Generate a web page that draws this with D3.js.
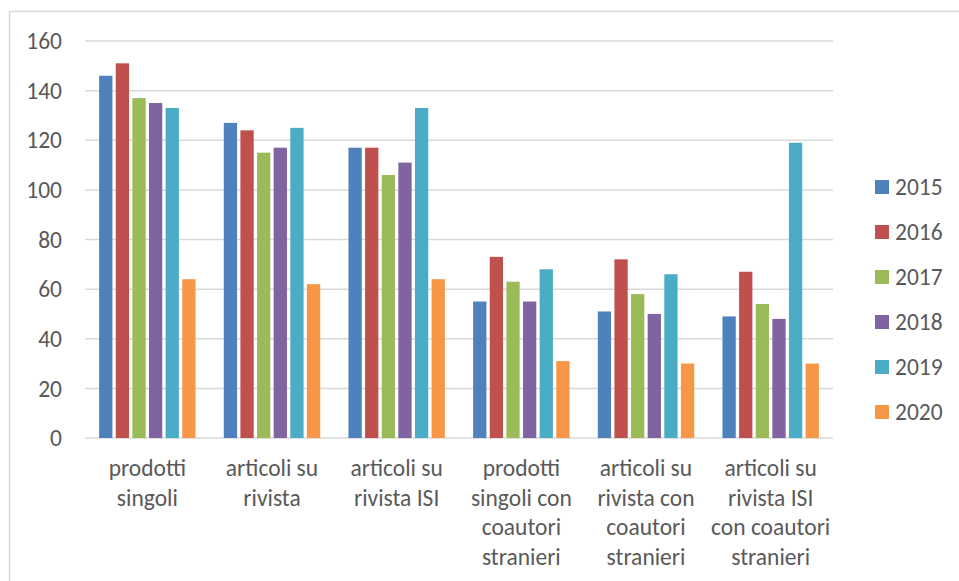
<!DOCTYPE html>
<html>
<head>
<meta charset="utf-8">
<script src="https://cdn.jsdelivr.net/npm/d3@7"></script>
<style>
  body { margin: 0; background: #fff; }
  svg text { font-family: Calibri, Carlito, "Liberation Sans", sans-serif; fill: #595959; }
</style>
</head>
<body>
<div id="chart"></div>
<script>
// chart data
var categories = [
  ["prodotti", "singoli"],
  ["articoli su", "rivista"],
  ["articoli su", "rivista ISI"],
  ["prodotti", "singoli con", "coautori", "stranieri"],
  ["articoli su", "rivista con", "coautori", "stranieri"],
  ["articoli su", "rivista ISI", "con coautori", "stranieri"]
];
var years = ["2015", "2016", "2017", "2018", "2019", "2020"];
var colors = ["#4F81BD", "#C0504D", "#9BBB59", "#8064A2", "#4BACC6", "#F79646"];
var values = {
  "2015": [146, 127, 117, 55, 51, 49],
  "2016": [151, 124, 117, 73, 72, 67],
  "2017": [137, 115, 106, 63, 58, 54],
  "2018": [135, 117, 111, 55, 50, 48],
  "2019": [133, 125, 133, 68, 66, 119],
  "2020": [64, 62, 64, 31, 30, 30]
};
var yTicks = [0, 20, 40, 60, 80, 100, 120, 140, 160];

var width = 959,
    height = 581;

var svg = d3.select("#chart")
    .append("svg")
    .attr("width", width)
    .attr("height", height);

// chart frame (cut off on right and bottom)
svg.append("rect")
    .attr("x", 9.5)
    .attr("y", 11.5)
    .attr("width", 1000)
    .attr("height", 1000)
    .attr("fill", "none")
    .attr("stroke", "#d9d9d9")
    .attr("stroke-width", 1.5);

var x0 = d3.scaleBand()
    .domain(d3.range(categories.length))
    .range([85, 833])
    .paddingInner(0.2)
    .paddingOuter(0.1);

var x1 = d3.scaleBand()
    .domain(years)
    .range([0, x0.bandwidth()])
    .paddingInner(0.2)
    .paddingOuter(0.1);

var y = d3.scaleLinear()
    .domain([0, 160])
    .range([438, 41]);

// gridlines
svg.append("g")
    .selectAll("line")
    .data(yTicks)
    .enter()
    .append("line")
    .attr("x1", 85)
    .attr("x2", 833)
    .attr("y1", function (d) { return y(d); })
    .attr("y2", function (d) { return y(d); })
    .attr("stroke", "#d9d9d9")
    .attr("stroke-width", 1.5);

// y labels
svg.append("g")
    .selectAll("text")
    .data(yTicks)
    .enter()
    .append("text")
    .attr("x", 62)
    .attr("y", function (d) { return y(d); })
    .attr("dy", "0.35em")
    .attr("text-anchor", "end")
    .style("font-size", "23.5px")
    .text(function (d) { return d; });

// bars
var groups = svg.append("g")
    .selectAll("g")
    .data(categories)
    .enter()
    .append("g")
    .attr("transform", function (d, i) { return "translate(" + x0(i) + ",0)"; });

groups.selectAll("rect")
    .data(function (d, i) {
        return years.map(function (yr, k) { return { year: yr, value: values[yr][i], color: colors[k] }; });
    })
    .enter()
    .append("rect")
    .attr("x", function (d) { return x1(d.year); })
    .attr("y", function (d) { return y(d.value); })
    .attr("width", x1.bandwidth())
    .attr("height", function (d) { return y(0) - y(d.value); })
    .attr("fill", function (d) { return d.color; });

// category labels
var labels = svg.append("g")
    .selectAll("text")
    .data(categories)
    .enter()
    .append("text")
    .attr("text-anchor", "middle")
    .style("font-size", "23.5px")
    .attr("transform", function (d, i) { return "translate(" + (x0(i) + x0.bandwidth() / 2) + ",468)"; });

labels.selectAll("tspan")
    .data(function (d) { return d; })
    .enter()
    .append("tspan")
    .attr("x", 0)
    .attr("y", function (d, i) { return i * 29.5; })
    .attr("dy", "0.35em")
    .text(function (d) { return d; });

// legend
var legend = svg.append("g")
    .selectAll("g")
    .data(years)
    .enter()
    .append("g")
    .attr("transform", function (d, i) { return "translate(875," + (187 + i * 45) + ")"; });

legend.append("rect")
    .attr("x", 0)
    .attr("y", -7)
    .attr("width", 14)
    .attr("height", 14)
    .attr("fill", function (d, i) { return colors[i]; });

legend.append("text")
    .attr("x", 20)
    .attr("y", 0)
    .attr("dy", "0.35em")
    .style("font-size", "23.5px")
    .text(function (d) { return d; });
</script>
</body>
</html>
